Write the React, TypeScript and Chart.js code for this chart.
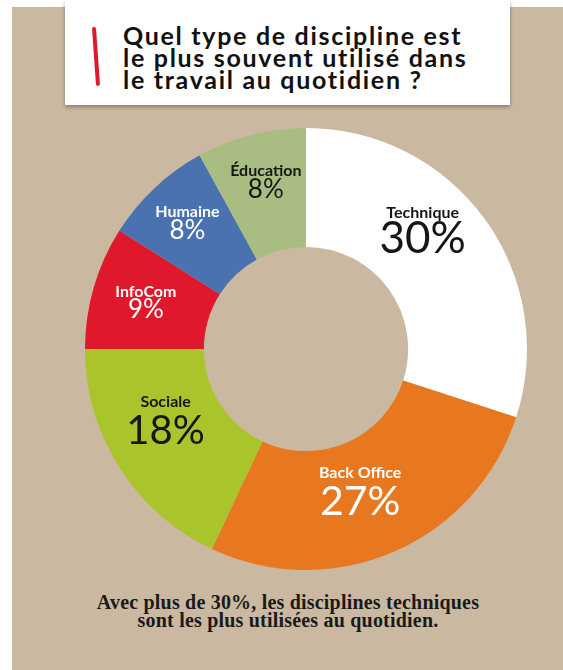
import React, { useEffect, useRef } from "react";
import { Chart, registerables } from "chart.js";

Chart.register(...registerables);

const categories = ["Technique", "Back Office", "Sociale", "InfoCom", "Humaine", "Éducation"];
const values = [30, 27, 18, 9, 8, 8];
const sliceColors = ["#ffffff", "#e8781f", "#a9c52b", "#e0182c", "#4a72b0", "#a9bd83"];
const textColors = ["#161616", "#ffffff", "#161616", "#ffffff", "#ffffff", "#161616"];
const numberSizes = [44, 41, 40, 26, 26, 26];
// label placement tweaks relative to arc centroid: [dx, labelBaselineDy, numberBaselineDy]
const labelTweaks = [
  [-14, -36, -1],
  [-10, -19, 18],
  [-4, -29, 8],
  [-5, -7, 14],
  [-8, -14, 8],
  [0, -17, 5],
];

const titleLines = [
  "Quel type de discipline est",
  "le plus souvent utilisé dans",
  "le travail au quotidien ?",
];
const captionLines = [
  "Avec plus de 30%, les disciplines techniques",
  "sont les plus utilisées au quotidien.",
];

const labelPlugin = {
  id: "sliceLabels",
  afterDatasetsDraw(chart: any) {
    const ctx = chart.ctx;
    const meta = chart.getDatasetMeta(0);
    meta.data.forEach((arc: any, i: number) => {
      const p = arc.getProps(["x", "y", "startAngle", "endAngle", "innerRadius", "outerRadius"], true);
      const mid = (p.startAngle + p.endAngle) / 2;
      const r = (p.innerRadius + p.outerRadius) / 2;
      const cx = p.x + Math.cos(mid) * r;
      const cy = p.y + Math.sin(mid) * r;
      const [dx, ly, ny] = labelTweaks[i];
      ctx.save();
      ctx.fillStyle = textColors[i];
      ctx.textAlign = "center";
      ctx.textBaseline = "alphabetic";
      ctx.font = "bold 16px Lato, 'Noto Sans', sans-serif";
      ctx.fillText(categories[i], cx + dx, cy + ly);
      ctx.font = `400 ${numberSizes[i]}px Lato, 'Noto Sans', sans-serif`;
      ctx.fillText(`${values[i]}%`, cx + dx, cy + ny);
      ctx.restore();
    });
  },
};

export default function App() {
  const canvasRef = useRef<HTMLCanvasElement | null>(null);

  useEffect(() => {
    if (!canvasRef.current) return;
    const chart = new Chart(canvasRef.current, {
      type: "doughnut",
      data: {
        labels: categories,
        datasets: [
          {
            data: values,
            backgroundColor: sliceColors,
            borderWidth: 0,
          },
        ],
      },
      options: {
        responsive: false,
        animation: false,
        cutout: "46.2%",
        layout: { padding: 0 },
        plugins: {
          legend: { display: false },
          tooltip: { enabled: false },
        },
      },
      plugins: [labelPlugin],
    });
    return () => chart.destroy();
  }, []);

  return (
    <div
      style={{
        position: "absolute",
        left: 0,
        top: 0,
        width: 563,
        height: 670,
        background: "#ffffff",
        overflow: "hidden",
      }}
    >
      <div
        style={{
          position: "absolute",
          left: 12,
          top: 7,
          width: 551,
          height: 663,
          background: "#cab9a0",
        }}
      />
      <div
        style={{
          position: "absolute",
          left: 65,
          top: 0,
          width: 445,
          height: 105,
          background: "#ffffff",
          boxShadow: "0 2px 4px rgba(0,0,0,0.35)",
        }}
      >
        <div
          style={{
            position: "absolute",
            left: 29,
            top: 27,
            width: 4,
            height: 59,
            background: "#e0182c",
            borderRadius: 2,
            transform: "rotate(-4deg)",
          }}
        />
        <div
          style={{
            position: "absolute",
            left: 58,
            top: 24,
            fontFamily: "Lato, 'Noto Sans', sans-serif",
            fontWeight: 700,
            fontSize: 25,
            letterSpacing: "1.7px",
            lineHeight: "22px",
            color: "#111111",
            whiteSpace: "nowrap",
          }}
        >
          {titleLines.map((t, i) => (
            <div key={i}>{t}</div>
          ))}
        </div>
      </div>
      <canvas
        ref={canvasRef}
        width={442}
        height={442}
        style={{ position: "absolute", left: 85, top: 128, width: 442, height: 442 }}
      />
      <div
        style={{
          position: "absolute",
          left: 0,
          width: 576,
          top: 593,
          textAlign: "center",
          fontFamily: "'Liberation Serif', 'DejaVu Serif', serif",
          fontWeight: 700,
          fontSize: 20,
          letterSpacing: "0.2px",
          lineHeight: "18px",
          color: "#1a1a1a",
        }}
      >
        {captionLines.map((t, i) => (
          <div key={i}>{t}</div>
        ))}
      </div>
    </div>
  );
}
